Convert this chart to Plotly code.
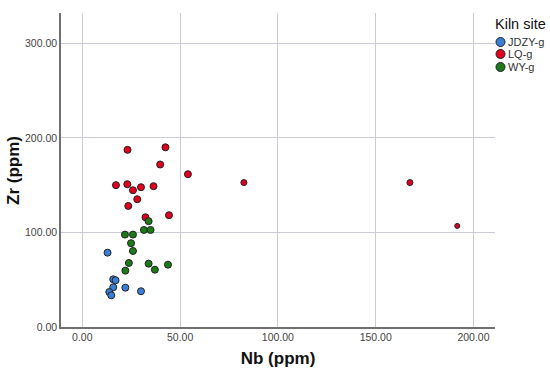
import plotly.graph_objects as go

# JDZY-g
jdzy_nb = [12.9, 15.8, 17.0, 15.8, 22.0, 30.0, 13.8, 14.8]
jdzy_zr = [78.6, 50.4, 49.4, 42.0, 41.6, 37.8, 37.0, 33.5]
# LQ-g
lq_nb = [23.1, 42.5, 39.8, 54.0, 17.2, 23.0, 25.9, 30.0, 36.4, 28.1, 23.5, 32.3, 44.3, 82.6, 167.5, 191.7]
lq_zr = [187.3, 190.0, 171.8, 161.6, 150.0, 151.0, 144.6, 147.8, 148.9, 135.1, 128.0, 116.0, 118.2, 152.7, 152.7, 106.9]
lq_size = [7]*13 + [6, 6, 5]
# WY-g
wy_nb = [33.9, 21.8, 25.9, 31.5, 34.9, 24.9, 25.9, 23.8, 33.9, 43.8, 37.1, 22.0]
wy_zr = [111.9, 97.7, 97.7, 102.6, 102.6, 88.6, 80.4, 67.7, 67.0, 65.9, 60.6, 59.6]

series_names = ["JDZY-g", "LQ-g", "WY-g"]
series_colors = ["#3a7fd6", "#e0001e", "#1c7a17"]
legend_title = "Kiln site"
y_title = "Zr (ppm)"
x_title = "Nb (ppm)"

x_ticks = [0, 50, 100, 150, 200]
y_ticks = [0, 100, 200, 300]

W, H = 550, 374
ML, MR, MT, MB = 61, 55, 13, 47
PW, PH = W - ML - MR, H - MT - MB

line = dict(color="#222222", width=1)
fig = go.Figure()
for nm, xs, ys, sz, col in [(series_names[0], jdzy_nb, jdzy_zr, 7, series_colors[0]),
                            (series_names[1], lq_nb, lq_zr, lq_size, series_colors[1]),
                            (series_names[2], wy_nb, wy_zr, 7, series_colors[2])]:
    fig.add_trace(go.Scatter(x=xs, y=ys, mode="markers", name=nm, showlegend=False,
                             marker=dict(color=col, size=sz, opacity=1, line=line)))

def px2paper(px, py):
    return (px - ML) / PW, (H - MB - py) / PH

# y-axis title
yx, yy = px2paper(13, 171)
fig.add_annotation(x=yx, y=yy, xref="paper", yref="paper", text="<b>" + y_title + "</b>",
                   showarrow=False, textangle=-90, xanchor="center", yanchor="middle",
                   font=dict(size=17, color="#111111"))

# manual legend (compact, like the reference)
tx, ty = px2paper(493, 24)
fig.add_annotation(x=tx, y=ty, xref="paper", yref="paper", text=legend_title,
                   showarrow=False, xanchor="left", yanchor="middle",
                   font=dict(size=14.5, color="#111111"))
item_y = [42, 54, 67]
for nm, col, py in zip(series_names, series_colors, item_y):
    cx, cy = px2paper(500.5, py)
    fig.add_shape(type="circle", xref="paper", yref="paper",
                  xsizemode="pixel", ysizemode="pixel", xanchor=cx, yanchor=cy,
                  x0=-4.5, x1=4.5, y0=-4.5, y1=4.5,
                  fillcolor=col, line=dict(color="#222222", width=1))
    lx, ly = px2paper(506, py)
    fig.add_annotation(x=lx, y=ly, xref="paper", yref="paper", text=nm,
                       showarrow=False, xanchor="left", yanchor="middle",
                       font=dict(size=11, color="#333333"))

fig.update_layout(
    width=W, height=H,
    margin=dict(l=ML, r=MR, t=MT, b=MB, autoexpand=False),
    paper_bgcolor="white", plot_bgcolor="white",
    font=dict(family="Arial, Liberation Sans, sans-serif", color="#333333"),
    showlegend=False,
    xaxis=dict(range=[-10.9, 211], tickvals=x_ticks, tickformat=".2f",
               showgrid=True, gridcolor="#c9ccd6", gridwidth=1,
               zeroline=False, showline=True, linecolor="#707070", linewidth=1.5,
               tickfont=dict(size=10.5, color="#444444"), ticks="", automargin=False,
               title=dict(text="<b>" + x_title + "</b>", font=dict(size=17, color="#111111"), standoff=10)),
    yaxis=dict(range=[0, 332], tickvals=y_ticks, tickformat=".2f",
               showgrid=True, gridcolor="#c9ccd6", gridwidth=1,
               zeroline=False, showline=True, linecolor="#707070", linewidth=1.5,
               tickfont=dict(size=10.5, color="#444444"), ticks="", automargin=False,
               ticklabelstandoff=0),
)

fig.write_html("out.html", config={"displayModeBar": False},
               post_script="document.body.style.margin='0';document.body.style.padding='0';")
